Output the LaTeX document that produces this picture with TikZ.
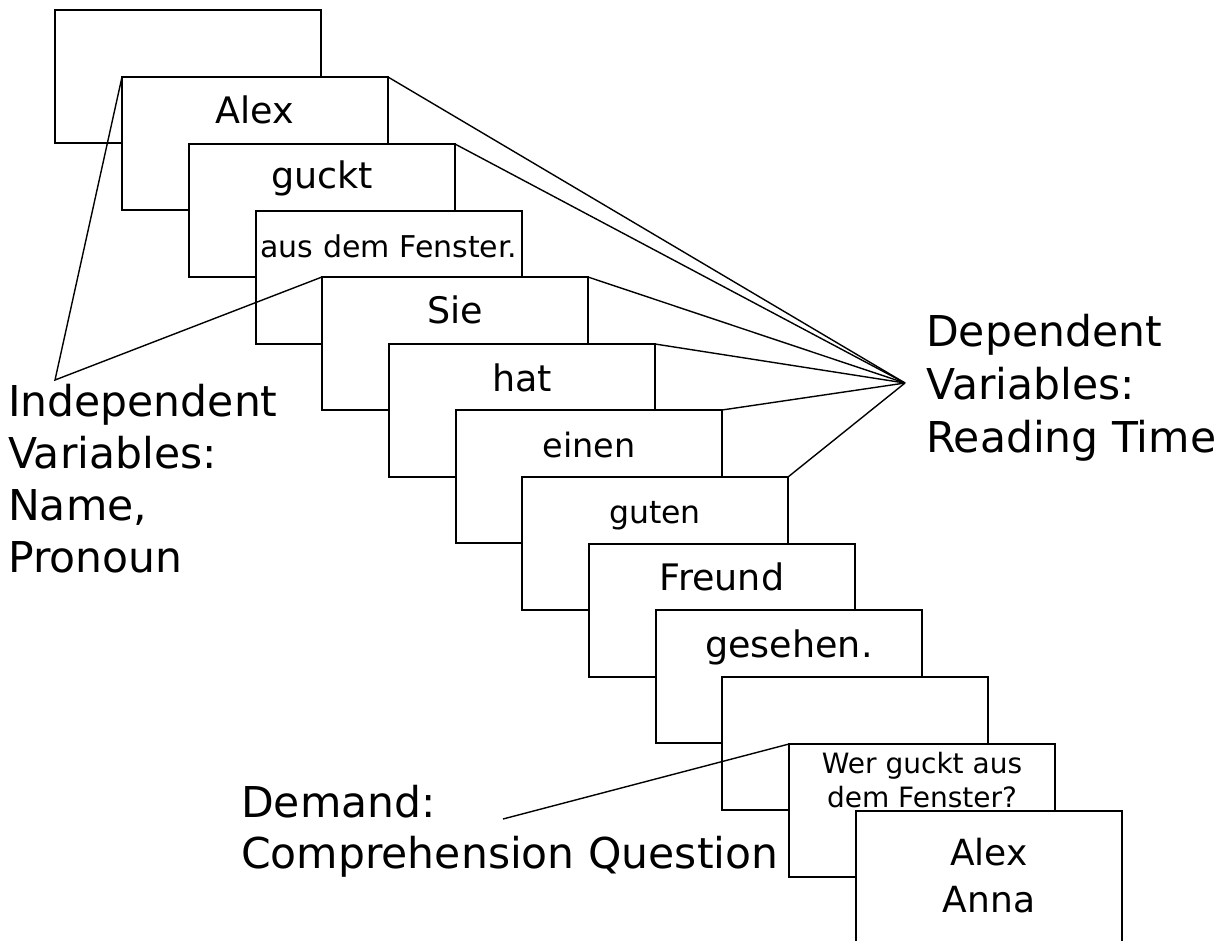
\documentclass[tikz,border=0pt]{standalone}
\usepackage{fontspec}
\setmainfont{DejaVu Sans}
\begin{document}
\begin{tikzpicture}[x=1pt,y=-1pt,
  slide/.style={draw, fill=white, line width=1.4pt, minimum width=266pt, minimum height=133pt, inner sep=0pt, outer sep=0pt, anchor=north west},
  word/.style={anchor=base, inner sep=0pt, font=\fontsize{36.5}{45}\selectfont},
  lbl/.style={anchor=base west, align=left, inner sep=0pt, font=\fontsize{42.5}{52}\selectfont},
  conn/.style={line width=1.4pt}]
\useasboundingbox (0,0) rectangle (1225,940);
\clip (0,0) rectangle (1225,940);
\node[slide] (b0) at (55,10) {};
\node[slide] (b1) at (122,77) {};
\node[word] (w1) at ([yshift=-46pt]b1.north) {Alex};
\node[slide] (b2) at (189,144) {};
\node[word] (w2) at ([yshift=-44pt]b2.north) {guckt};
\node[slide] (b3) at (256,211) {};
\node[word, font=\fontsize{30}{36}\selectfont] (w3) at ([yshift=-46pt]b3.north) {aus dem Fenster.};
\node[slide] (b4) at (322,277) {};
\node[word] (w4) at ([yshift=-46pt]b4.north) {Sie};
\node[slide] (b5) at (389,344) {};
\node[word] (w5) at ([yshift=-47pt]b5.north) {hat};
\node[slide] (b6) at (456,410) {};
\node[word, font=\fontsize{33.5}{40}\selectfont] (w6) at ([yshift=-47pt]b6.north) {einen};
\node[slide] (b7) at (522,477) {};
\node[word, font=\fontsize{31.5}{38}\selectfont] (w7) at ([yshift=-46pt]b7.north) {guten};
\node[slide] (b8) at (589,544) {};
\node[word] (w8) at ([yshift=-46pt]b8.north) {Freund};
\node[slide] (b9) at (656,610) {};
\node[word] (w9) at ([yshift=-47pt]b9.north) {gesehen.};
\node[slide] (b10) at (722,677) {};
\node[slide] (b11) at (789,744) {};
\node[word, align=center, font=\fontsize{28}{34}\selectfont] (w11) at ([yshift=-63pt]b11.north) {Wer guckt aus\\dem Fenster?};
\node[slide] (b12) at (856,811) {};
\node[word, align=center, font=\fontsize{36}{47}\selectfont] (w12) at ([yshift=-101pt]b12.north) {Alex\\Anna};
\coordinate (iv) at (55,380);
\coordinate (dv) at (905,383);
\coordinate (dq) at (503,819);
\draw[conn] (b1.north west) -- (iv) -- (b4.north west);
\foreach \k in {1,2,4,5,6,7} \draw[conn] (b\k.north east) -- (dv);
\draw[conn] (dq) -- (b11.north west);
\node[lbl] (ind) at (8,572) {Independent\\Variables:\\Name,\\Pronoun};
\node[lbl, font=\fontsize{42.5}{53}\selectfont] (dep) at (926,452) {Dependent\\Variables:\\Reading Time};
\node[lbl, font=\fontsize{42.5}{51}\selectfont] (dem) at (241,868) {Demand:\\Comprehension Question};
\end{tikzpicture}
\end{document}
